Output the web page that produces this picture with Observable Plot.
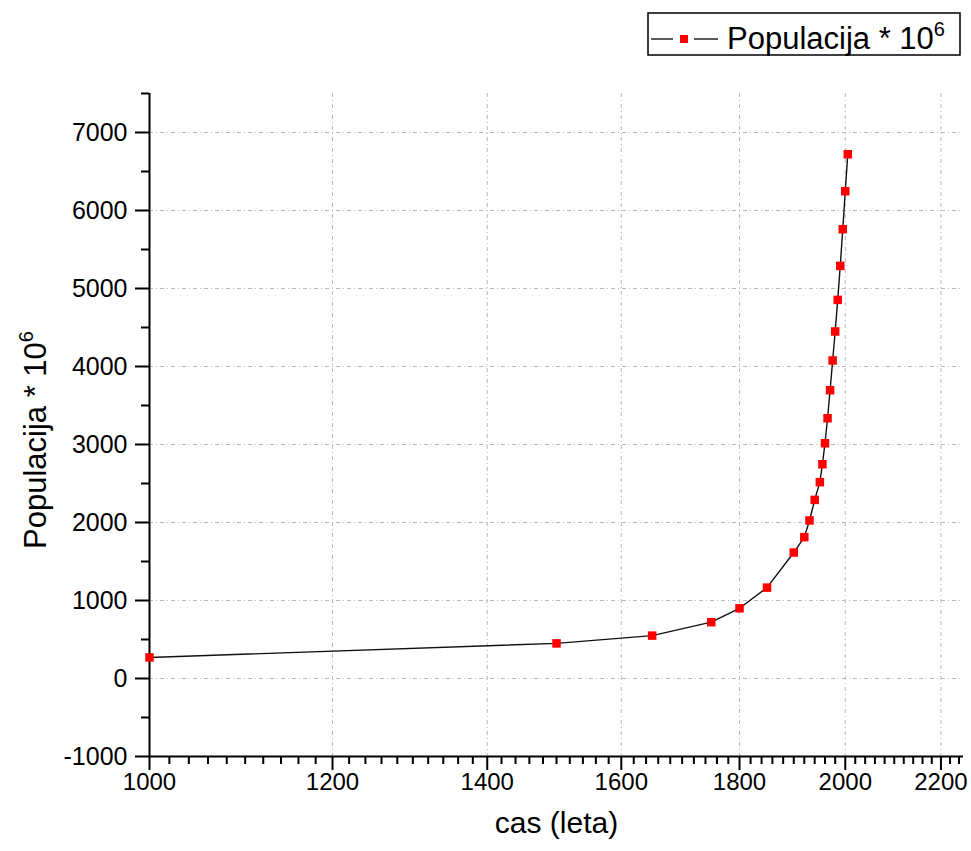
<!DOCTYPE html>
<html>
<head>
<meta charset="utf-8">
<script src="https://cdn.jsdelivr.net/npm/d3@7"></script>
<script src="https://cdn.jsdelivr.net/npm/@observablehq/plot@0.6"></script>
<style>
  html, body { margin: 0; padding: 0; background: #fff; }
  #chart { position: relative; width: 971px; height: 851px; }
</style>
</head>
<body>
<div id="chart"></div>
<script>
const years = [1000, 1500, 1650, 1750, 1800, 1850, 1900, 1920, 1930, 1940, 1950, 1955, 1960, 1965, 1970, 1975, 1980, 1985, 1990, 1995, 2000, 2005];
const population = [270, 450, 550, 722, 900, 1165, 1615, 1812, 2026, 2290, 2517, 2747, 3016, 3337, 3696, 4077, 4449, 4854, 5290, 5760, 6247, 6721];
const xMajorTicks = [1000, 1200, 1400, 1600, 1800, 2000, 2200];
const xMinorTicks = d3.range(1020, 2250, 20).filter(v => v % 200 !== 0);
const yMajorTicks = [-1000, 0, 1000, 2000, 3000, 4000, 5000, 6000, 7000];
const yMinorTicks = [-500, 500, 1500, 2500, 3500, 4500, 5500, 6500, 7500];
const xTitle = "cas (leta)";
const yTitle = "Populacija * 10";
const legendLabel = "Populacija * 10";
const superscript = "6";

const data = years.map((x, i) => ({x, y: population[i]}));
const font = "'Liberation Sans', Arial, sans-serif";
const gridStyle = {stroke: "#b8b8b8", strokeOpacity: 1, strokeWidth: 1, strokeDasharray: "4,3,1,3"};

const svg = Plot.plot({
  width: 971,
  height: 851,
  marginLeft: 149,
  marginRight: 8,
  marginTop: 93,
  marginBottom: 95,
  style: {fontFamily: font, background: "white", color: "black", overflow: "visible"},
  x: {type: "log", domain: [1000, 2250]},
  y: {domain: [-1000, 7500]},
  marks: [
    Plot.gridX(xMajorTicks.slice(1), gridStyle),
    Plot.gridY(yMajorTicks.slice(1), gridStyle),
    Plot.axisX({ticks: xMinorTicks, tickSize: 8, strokeWidth: 2, tickFormat: () => "", label: null}),
    Plot.axisX({ticks: xMajorTicks, tickSize: 14, strokeWidth: 2, tickPadding: 2, fontSize: 24, tickFormat: d => String(d), label: null}),
    Plot.axisY({ticks: yMinorTicks, tickSize: 8, strokeWidth: 2, tickFormat: () => "", label: null}),
    Plot.axisY({ticks: yMajorTicks, tickSize: 14, strokeWidth: 2, tickPadding: 8, fontSize: 25, tickFormat: d => String(d), label: null}),
    Plot.ruleY([-1000], {strokeWidth: 2, stroke: "black"}),
    Plot.ruleX([1000], {strokeWidth: 2, stroke: "black"}),
    Plot.line(data, {x: "x", y: "y", stroke: "#111", strokeWidth: 1.4}),
    Plot.dot(data, {x: "x", y: "y", symbol: "square", fill: "#ff0000", r: 4.8}),
    Plot.text([xTitle], {frameAnchor: "bottom", dy: 76, fontSize: 30, fill: "black", fontFamily: font})
  ]
});

const s = d3.select(svg);
// Y title with superscript
const yt = s.append("text")
  .attr("transform", "translate(46,440) rotate(-90)")
  .attr("text-anchor", "middle")
  .attr("font-family", font)
  .attr("font-size", 31)
  .attr("fill", "black");
yt.append("tspan").text(yTitle);
yt.append("tspan").attr("font-size", 20).attr("dy", -13).text(superscript);

// Legend
const lg = s.append("g");
lg.append("rect").attr("x", 648).attr("y", 13).attr("width", 312).attr("height", 42)
  .attr("fill", "white").attr("stroke", "black").attr("stroke-width", 1.5);
lg.append("line").attr("x1", 651).attr("x2", 673).attr("y1", 39).attr("y2", 39).attr("stroke", "black").attr("stroke-width", 1.3);
lg.append("line").attr("x1", 694).attr("x2", 718).attr("y1", 39).attr("y2", 39).attr("stroke", "black").attr("stroke-width", 1.3);
lg.append("rect").attr("x", 680).attr("y", 35).attr("width", 8).attr("height", 8).attr("fill", "#ff0000");
const lt = lg.append("text").attr("x", 727).attr("y", 49)
  .attr("text-anchor", "start")
  .attr("font-family", font).attr("font-size", 31).attr("fill", "black");
lt.append("tspan").text(legendLabel);
lt.append("tspan").attr("font-size", 20).attr("dy", -13).text(superscript);

document.getElementById("chart").appendChild(svg);
</script>
</body>
</html>
